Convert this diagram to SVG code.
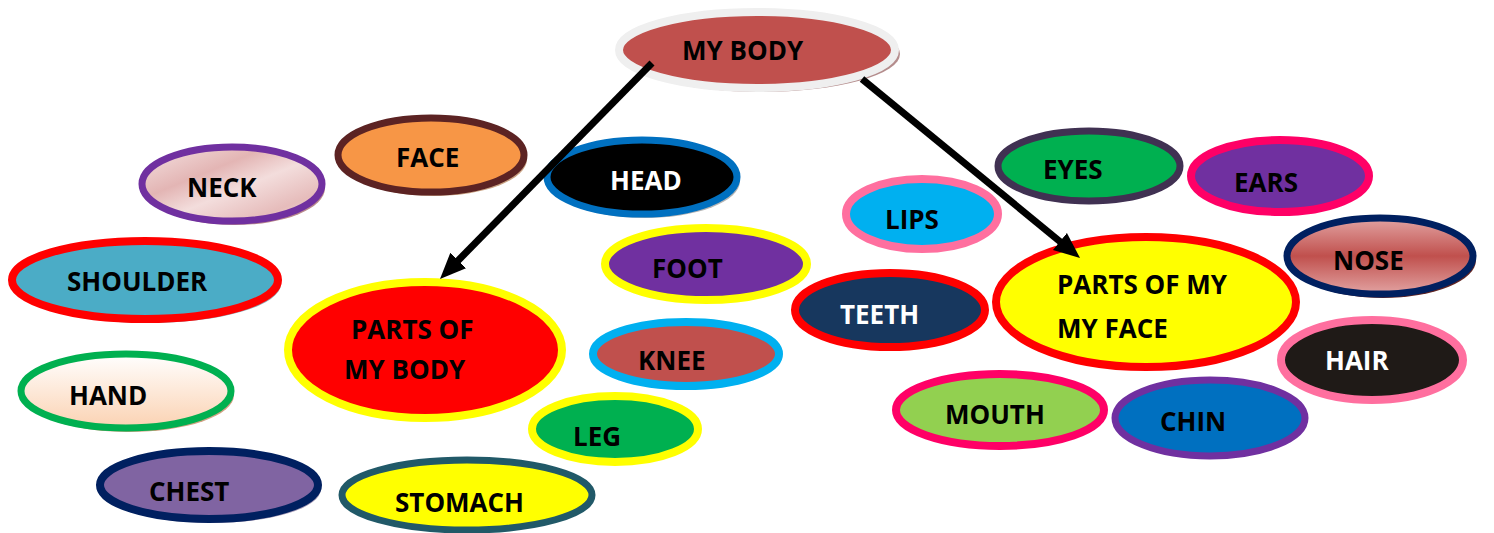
<svg xmlns="http://www.w3.org/2000/svg" width="1494" height="533" viewBox="0 0 1494 533">
<style>
.t{font-family:"Open Sans","Liberation Sans",sans-serif;font-weight:700;font-size:26px;fill:#000}
.w{fill:#fff}
.c{stroke:#000;stroke-width:7;fill:none}
</style>
<defs>
<marker id="ah" markerUnits="userSpaceOnUse" markerWidth="28" markerHeight="24" refX="12" refY="11" orient="auto">
<path d="M0,0 L26,11 L0,22 z" fill="#000"/>
</marker>
<linearGradient id="gNeck" x1="0" y1="0" x2="1" y2="1">
<stop offset="0" stop-color="#f5e4e3"/><stop offset="0.35" stop-color="#e3b5b4"/><stop offset="0.55" stop-color="#f3dddc"/><stop offset="0.8" stop-color="#e6bcbb"/><stop offset="1" stop-color="#f2dcdb"/>
</linearGradient>
<linearGradient id="gHand" x1="0" y1="0" x2="0" y2="1">
<stop offset="0" stop-color="#ffffff"/><stop offset="1" stop-color="#fbd2b2"/>
</linearGradient>
<linearGradient id="gNose" x1="0" y1="0" x2="0" y2="1">
<stop offset="0" stop-color="#e2a3a2"/><stop offset="0.5" stop-color="#c0504d"/><stop offset="1" stop-color="#e2a3a2"/>
</linearGradient>
</defs>

<g id="my-body">
<ellipse cx="761" cy="54" rx="139" ry="38" fill="#b48c8c"/>
<ellipse cx="757" cy="50" rx="138" ry="38" fill="#c0504d" stroke="#efefef" stroke-width="8"/>
<text class="t" x="682" y="60" font-size="25">MY BODY</text>
</g>
<g id="face">
<ellipse cx="434" cy="159" rx="93" ry="37" fill="#c9a283"/>
<ellipse cx="431" cy="155" rx="93" ry="37" fill="#f79646" stroke="#5c2323" stroke-width="7"/>
<text class="t" x="396" y="167">FACE</text>
</g>
<g id="neck">
<ellipse cx="235" cy="188" rx="90" ry="37" fill="#b98a8c"/>
<ellipse cx="232" cy="184" rx="90" ry="37" fill="url(#gNeck)" stroke="#7030a0" stroke-width="7"/>
<text class="t" x="187" y="197">NECK</text>
</g>
<g id="head">
<ellipse cx="645" cy="181" rx="95" ry="37" fill="#b4b4b4"/>
<ellipse cx="642" cy="177" rx="95" ry="37" fill="#000" stroke="#0070c0" stroke-width="7"/>
<text class="t w" x="610" y="190">HEAD</text>
</g>
<g id="shoulder">
<ellipse cx="148" cy="284" rx="133" ry="39" fill="#8fa8b2"/>
<ellipse cx="145" cy="280" rx="133" ry="39" fill="#4bacc6" stroke="#ff0000" stroke-width="8"/>
<text class="t" x="67" y="291">SHOULDER</text>
</g>
<g id="foot">
<ellipse cx="706" cy="264" rx="101" ry="36" fill="#7030a0" stroke="#ffff00" stroke-width="8"/>
<text class="t" x="652" y="278">FOOT</text>
</g>
<g id="parts-of-my-body">
<ellipse cx="425" cy="350" rx="137" ry="68" fill="#ff0000" stroke="#ffff00" stroke-width="8"/>
<text class="t" x="351" y="339">PARTS OF</text>
<text class="t" x="344" y="379">MY BODY</text>
</g>
<g id="knee">
<ellipse cx="686" cy="354" rx="93" ry="32" fill="#c0504d" stroke="#00b0f0" stroke-width="8"/>
<text class="t" x="638" y="370">KNEE</text>
</g>
<g id="hand">
<ellipse cx="129" cy="395" rx="105" ry="37" fill="#d0a283"/>
<ellipse cx="126" cy="391" rx="105" ry="37" fill="url(#gHand)" stroke="#00b050" stroke-width="7"/>
<text class="t" x="69" y="405">HAND</text>
</g>
<g id="leg">
<ellipse cx="615" cy="429" rx="83" ry="33" fill="#00b050" stroke="#ffff00" stroke-width="8"/>
<text class="t" x="573" y="446">LEG</text>
</g>
<g id="chest">
<ellipse cx="212" cy="489" rx="109" ry="34" fill="#a69ab5"/>
<ellipse cx="209" cy="485" rx="109" ry="34" fill="#8064a2" stroke="#002060" stroke-width="8"/>
<text class="t" x="149" y="501">CHEST</text>
</g>
<g id="stomach">
<ellipse cx="467" cy="495" rx="125" ry="35" fill="#ffff00" stroke="#215968" stroke-width="7"/>
<text class="t" x="395" y="512">STOMACH</text>
</g>
<g id="lips">
<ellipse cx="922" cy="214" rx="76" ry="35" fill="#00b0f0" stroke="#ff6f9f" stroke-width="8"/>
<text class="t" x="885" y="229">LIPS</text>
</g>
<g id="eyes">
<ellipse cx="1089" cy="166" rx="91" ry="35" fill="#00b050" stroke="#403152" stroke-width="7"/>
<text class="t" x="1043" y="179">EYES</text>
</g>
<g id="ears">
<ellipse cx="1280" cy="176" rx="89" ry="36" fill="#7030a0" stroke="#ff0066" stroke-width="8"/>
<text class="t" x="1234" y="192">EARS</text>
</g>
<g id="nose">
<ellipse cx="1383" cy="260" rx="93" ry="38" fill="#632523"/>
<ellipse cx="1380" cy="256" rx="93" ry="38" fill="url(#gNose)" stroke="#002060" stroke-width="7"/>
<text class="t" x="1333" y="270">NOSE</text>
</g>
<g id="teeth">
<ellipse cx="890" cy="310" rx="95" ry="37" fill="#17375e" stroke="#ff0000" stroke-width="8"/>
<text class="t w" x="840" y="324">TEETH</text>
</g>
<g id="parts-of-my-face">
<ellipse cx="1146" cy="302" rx="150" ry="65" fill="#ffff00" stroke="#ff0000" stroke-width="8"/>
<text class="t" x="1057" y="294">PARTS OF MY</text>
<text class="t" x="1057" y="338">MY FACE</text>
</g>
<g id="hair">
<ellipse cx="1372" cy="360" rx="91" ry="40" fill="#1f1a17" stroke="#ff6f9f" stroke-width="8"/>
<text class="t w" x="1325" y="370">HAIR</text>
</g>
<g id="mouth">
<ellipse cx="1000" cy="410" rx="104" ry="36" fill="#92d050" stroke="#ff0066" stroke-width="8"/>
<text class="t" x="945" y="424">MOUTH</text>
</g>
<g id="chin">
<ellipse cx="1210" cy="418" rx="95" ry="38" fill="#0070c0" stroke="#7030a0" stroke-width="7"/>
<text class="t" x="1160" y="431">CHIN</text>
</g>

<g id="connectors">
<line class="c" x1="652" y1="63" x2="449.8" y2="269" marker-end="url(#ah)"/>
<line class="c" x1="862" y1="79" x2="1069.2" y2="249.1" marker-end="url(#ah)"/>
</g>
</svg>
